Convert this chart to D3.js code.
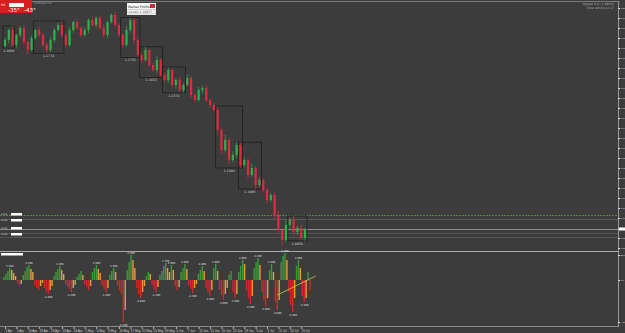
<!DOCTYPE html>
<html>
<head>
<meta charset="utf-8">
<script src="https://cdn.jsdelivr.net/npm/d3@7"></script>
<style>
body { margin: 0; background: #3c3c3c; }
svg { display: block; font-family: "DejaVu Sans", sans-serif; }
</style>
</head>
<body>
<script>
// candle closes (price), one per bar
var firstOpen = 1.1810;
var closes = [
	1.1840,1.1890,1.1815,1.1865,1.1900,1.1830,1.1790,1.1850,1.1890,1.1865,1.1815,
	1.1790,1.1840,1.1890,1.1915,1.1865,1.1815,1.1890,1.1930,1.1900,1.1865,
	1.1890,1.1940,1.1915,1.1950,1.1900,1.1865,1.1930,1.1965,1.1915,1.1865,
	1.1815,1.1890,1.1940,1.1840,1.1765,
	1.1740,1.1790,1.1715,1.1690,1.1740,1.1665,1.1640,1.1690,1.1615,1.1640,
	1.1590,1.1615,1.1650,1.1565,1.1540,1.1590,1.1600,1.1540,1.1515,1.1490,
	1.1390,1.1290,1.1340,1.1240,1.1265,1.1315,1.1215,
	1.1240,1.1165,1.1200,1.1115,1.1140,1.1090,1.1040,1.1065,
	1.0965,1.0890,1.0840,1.0915,1.0940,1.0880,1.0900,1.0850,1.0890
];
// wick sizes in pips
var upWick = [12,8,20,6,10,15,9,14,7,18,11, 10,16,8,12,20,9,15,6,13,10, 14,8,17,9,12,20,7,10,15,11,
	9,18,12,8,14, 10,16,7,12,20,9,13,15,8,11, 14,9,18,12,7,15,10,16,8,12, 20,15,25,10,18,12,14,
	16,9,20,11,15,8,13,10, 18,22,10,28,15,20,12,18,10];
var downWick = [10,15,7,18,9,12,20,8,11,14,9, 16,10,13,8,11,17,9,14,10,12, 8,15,10,13,9,11,16,8,12,10,
	18,9,14,20,12, 15,8,13,10,16,12,9,14,11,18, 10,14,8,16,12,9,15,11,13,10, 25,20,12,22,10,18,15,
	12,16,9,20,11,14,18,10, 20,15,30,12,18,10,16,12,14];

// oscillator histogram (two bars per candle)
var oscValues = [
	3,6,9,12,10,7,4,-3,-6,-4,5,9,13,15,11,8,-5,-8,-10,-6,-3,
	-8,-12,-14,-10,-6,4,8,11,14,10,6,-4,-7,-9,-12,-8,-5,3,6,9,5,
	-4,-7,-10,-6,8,12,15,11,7,-5,-9,-12,-8,5,9,12,8,-6,-10,-14,-42,
	-30,10,18,25,20,12,-8,-14,-18,-12,-6,4,8,6,-5,-9,-12,-7,
	5,9,14,17,12,8,15,10,-6,-10,-7,8,12,16,11,-5,-9,-13,-8,-4,
	6,10,14,9,-8,-12,-16,-10,12,16,9,-10,-15,-20,-14,-8,5,9,-12,-18,
	-14,8,14,20,16,-10,-18,-24,-16,12,18,22,15,-12,-20,-26,-18,10,16,8,
	-22,-30,-20,18,24,27,20,-12,-25,-32,-18,14,20,12,-16,-22,-18,8,-10
];

// consolidation boxes (bar index ranges)
var boxStart = [0, 8, 31, 36, 42, 56, 62, 75];
var boxEnd   = [2, 15, 35, 41, 47, 62, 67, 79];

// horizontal levels
var levelPrices = [1.0965, 1.0945, 1.0895, 1.0875, 1.0855];
var levelColors = ['#4f8a3c', '#5a5a5a', '#8a8a8a', '#555555', '#555555'];

// price axis ticks
var priceTicks = d3.range(1.0800, 1.2001, 0.005);

// date labels under every 3rd bar
var dateLabels = ['2 Apr','5 Apr','10 Apr','13 Apr','18 Apr','23 Apr',
	'26 Apr','1 May','4 May','9 May','14 May','17 May','22 May',
	'25 May','30 May','4 Jun','7 Jun','12 Jun','15 Jun','20 Jun',
	'25 Jun','28 Jun','3 Jul','6 Jul','11 Jul','16 Jul','19 Jul'];

// trend line on oscillator
var trendIdx = [142, 162];
var trendVal = [-15, 4];

var width = 625, height = 333;

var svg = d3.select('body').append('svg')
	.attr('width', width)
	.attr('height', height);

svg.append('rect').attr('width', width).attr('height', height).attr('fill', '#3c3c3c');

// build candle objects
var candles = closes.map(function(c, i) {
	var o = i === 0 ? firstOpen : closes[i - 1];
	return {
		i: i, open: o, close: c,
		high: Math.max(o, c) + upWick[i] / 10000,
		low: Math.min(o, c) - downWick[i] / 10000
	};
});

var xScale = d3.scaleLinear().domain([0, 79]).range([5, 305]);
var xOsc = d3.scaleLinear().domain([0, 159]).range([4, 310]);
var yScale = d3.scaleLinear().domain([1.0800, 1.2030]).range([248, 2]);
var oScale = d3.scaleLinear().domain([-46, 28]).range([326, 252]);

// frame lines
svg.append('line').attr('x1', 0).attr('x2', 618).attr('y1', 1.5).attr('y2', 1.5).attr('stroke', '#7a7a7a');
svg.append('line').attr('x1', 0).attr('x2', 618).attr('y1', 251.5).attr('y2', 251.5).attr('stroke', '#a8a8a8');
svg.append('line').attr('x1', 0).attr('x2', 618).attr('y1', 326.5).attr('y2', 326.5).attr('stroke', '#8a8a8a');
svg.append('line').attr('x1', 618.5).attr('x2', 618.5).attr('y1', 1).attr('y2', 327).attr('stroke', '#9a9a9a');

// levels
var lv = svg.append('g');
levelPrices.forEach(function(p, k) {
	lv.append('line')
		.attr('x1', 0).attr('x2', 618)
		.attr('y1', Math.round(yScale(p)) + 0.5).attr('y2', Math.round(yScale(p)) + 0.5)
		.attr('stroke', levelColors[k])
		.attr('stroke-dasharray', k === 0 ? '2,1' : null);
});
[[1.0965, 1.0945], [1.0895, 1.0875]].forEach(function(pair) {
	pair.forEach(function(p, j) {
		svg.append('text').attr('x', 1).attr('y', yScale(p) + (j ? 2 : 0))
			.attr('font-size', 2.5).attr('fill', '#cfcfcf').text('Zone');
		svg.append('rect').attr('x', 11).attr('y', yScale(p) - 2 + (j ? 2 : 0))
			.attr('width', 11).attr('height', 2.5).attr('fill', '#ffffff');
	});
});
svg.append('rect').attr('x', 619).attr('y', yScale(1.0895) - 1.5).attr('width', 6).attr('height', 3).attr('fill', '#ffffff');

// boxes
var bx = svg.append('g');
boxStart.forEach(function(s, k) {
	var seg = candles.slice(s, boxEnd[k] + 1);
	var hi = d3.max(seg, function(d) { return d.high; });
	var lo = d3.min(seg, function(d) { return d.low; });
	var x0 = xScale(s) - 2, x1 = xScale(boxEnd[k]) + 2;
	bx.append('rect')
		.attr('x', x0).attr('y', yScale(hi))
		.attr('width', x1 - x0).attr('height', yScale(lo) - yScale(hi))
		.attr('fill', 'none').attr('stroke', '#1e1e1e').attr('stroke-width', 0.8);
	bx.append('text')
		.attr('x', (x0 + x1) / 2).attr('y', yScale(lo) + 4)
		.attr('text-anchor', 'middle').attr('font-size', 3.2).attr('fill', '#d8d8d8')
		.text(lo.toFixed(4));
});

// candles
var cg = svg.append('g');
cg.selectAll('.wick')
	.data(candles)
	.enter().append('line')
	.attr('class', 'wick')
	.attr('x1', function(d) { return xScale(d.i); })
	.attr('x2', function(d) { return xScale(d.i); })
	.attr('y1', function(d) { return yScale(d.high); })
	.attr('y2', function(d) { return yScale(d.low); })
	.attr('stroke', function(d) { return d.close >= d.open ? '#2fb04a' : '#e02a40'; })
	.attr('stroke-width', 0.7);

cg.selectAll('.body')
	.data(candles)
	.enter().append('rect')
	.attr('class', 'body')
	.attr('x', function(d) { return xScale(d.i) - 1.1; })
	.attr('y', function(d) { return yScale(Math.max(d.open, d.close)); })
	.attr('width', 2.2)
	.attr('height', function(d) { return Math.max(0.8, Math.abs(yScale(d.open) - yScale(d.close))); })
	.attr('fill', function(d) { return d.close >= d.open ? '#2fb04a' : '#e02a40'; });

// price axis
var yAxis = d3.axisRight(yScale).tickValues(priceTicks).tickSize(2).tickFormat(d3.format('.4f'));
var ya = svg.append('g').attr('transform', 'translate(618,0)').call(yAxis);
ya.select('.domain').remove();
ya.selectAll('line').attr('stroke', '#dddddd');
ya.selectAll('text').attr('font-size', 2.5).attr('fill', '#e0e0e0').attr('x', 2.5);

// oscillator
var oscData = oscValues.map(function(v, j) { return { j: j, v: v, prev: j ? oscValues[j - 1] : 0, next: j < oscValues.length - 1 ? oscValues[j + 1] : 0 }; });
var og = svg.append('g');
og.selectAll('.osc')
	.data(oscData)
	.enter().append('rect')
	.attr('class', 'osc')
	.attr('x', function(d) { return xOsc(d.j) - 0.7; })
	.attr('y', function(d) { return oScale(Math.max(0, d.v)); })
	.attr('width', 1.4)
	.attr('height', function(d) { return Math.abs(oScale(d.v) - oScale(0)); })
	.attr('fill', function(d) {
		if (d.v >= 0) return d.v > d.prev ? '#3d9a3a' : '#e3a13a';
		return d.v < d.prev ? '#d4262e' : '#e3a13a';
	});

og.selectAll('.osc-label')
	.data(oscData.filter(function(d) {
		return Math.abs(d.v) >= 12 && Math.abs(d.v) >= Math.abs(d.prev) && Math.abs(d.v) >= Math.abs(d.next);
	}))
	.enter().append('text')
	.attr('class', 'osc-label')
	.attr('x', function(d) { return xOsc(d.j); })
	.attr('y', function(d) { return d.v > 0 ? oScale(d.v) - 1.5 : oScale(d.v) + 3.5; })
	.attr('text-anchor', 'middle').attr('font-size', 2.6).attr('fill', '#e8e8e8')
	.text(function(d) { return (d.v / 10).toFixed(3); });

og.append('line')
	.attr('x1', xOsc(trendIdx[0])).attr('y1', oScale(trendVal[0]))
	.attr('x2', xOsc(trendIdx[1])).attr('y2', oScale(trendVal[1]))
	.attr('stroke', '#b9d23f').attr('stroke-width', 0.8);

svg.append('rect').attr('x', 1).attr('y', 253).attr('width', 22).attr('height', 2.5).attr('fill', '#ffffff');

var oAxis = d3.axisRight(oScale).tickValues([-42, 0, 25]).tickSize(2).tickFormat(d3.format('.1f'));
var oa = svg.append('g').attr('transform', 'translate(618,0)').call(oAxis);
oa.select('.domain').remove();
oa.selectAll('line').attr('stroke', '#dddddd');
oa.selectAll('text').attr('font-size', 2.5).attr('fill', '#e0e0e0').attr('x', 2.5);

// date axis
var xAxis = d3.axisBottom(xScale)
	.tickValues(d3.range(0, 79, 3))
	.tickSize(2)
	.tickFormat(function(d) { return dateLabels[d / 3]; });
var xa = svg.append('g').attr('transform', 'translate(0,327)').call(xAxis);
xa.select('.domain').remove();
xa.selectAll('line').attr('stroke', '#bbbbbb');
xa.selectAll('text').attr('font-size', 3).attr('fill', '#d0d0d0').attr('y', 3).attr('text-anchor', 'start');

// top-left red panel
svg.append('rect').attr('x', 0).attr('y', 0).attr('width', 32).attr('height', 13).attr('fill', '#d81e1e');
svg.append('rect').attr('x', 9).attr('y', 3).attr('width', 15).attr('height', 4).attr('fill', '#f4f4f4');
svg.append('text').attr('x', 1).attr('y', 6).attr('font-size', 3).attr('fill', '#ffffff').text('H4');
svg.append('text').attr('x', 8).attr('y', 12).attr('font-size', 5.5).attr('fill', '#ffffff').text('-35°');
svg.append('text').attr('x', 24).attr('y', 12).attr('font-size', 5.5).attr('fill', '#ffffff').text('-43°');
svg.append('text').attr('x', 34).attr('y', 4).attr('font-size', 3).attr('fill', '#a0a0a0').text('EURUSD,H4');

// market profile box
svg.append('rect').attr('x', 127).attr('y', 3).attr('width', 29).attr('height', 12).attr('fill', '#f6f6f6');
svg.append('text').attr('x', 128).attr('y', 7.5).attr('font-size', 3.2).attr('fill', '#222').text('Market Profile');
svg.append('rect').attr('x', 150).attr('y', 4).attr('width', 5).attr('height', 4).attr('fill', '#c8283a');
svg.append('rect').attr('x', 128).attr('y', 9.5).attr('width', 27).attr('height', 4.5).attr('fill', 'none').attr('stroke', '#999').attr('stroke-width', 0.4);
svg.append('text').attr('x', 129).attr('y', 13).attr('font-size', 3).attr('fill', '#555').text('Levels  1.18937');

// top-right info
svg.append('text').attr('x', 614).attr('y', 5).attr('text-anchor', 'end').attr('font-size', 3).attr('fill', '#b0b0b0').text('Spread 0.8  |  1.09015');
svg.append('text').attr('x', 614).attr('y', 9).attr('text-anchor', 'end').attr('font-size', 3).attr('fill', '#b0b0b0').text('Time left 02:41:17');
</script>
</body>
</html>
